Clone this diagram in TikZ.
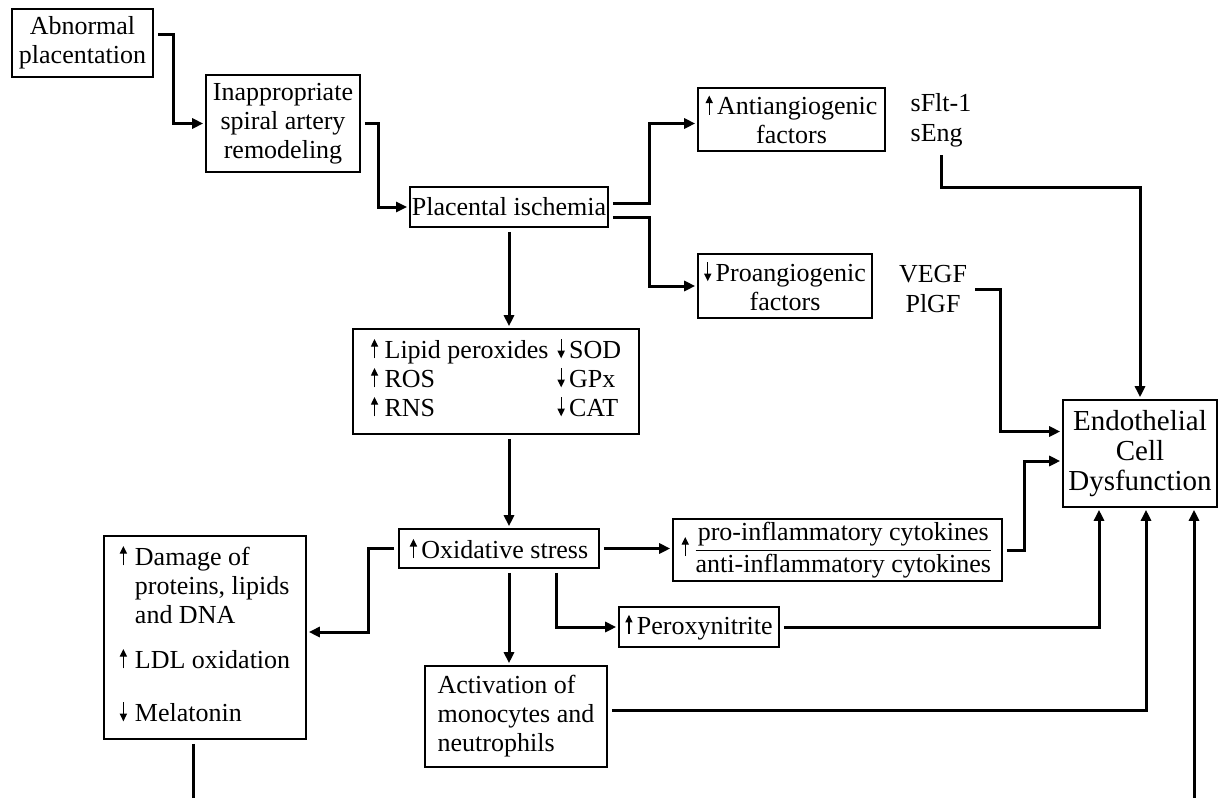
\documentclass[tikz,border=0pt]{standalone}
\usepackage{fontspec}
\setmainfont{Liberation Serif}
\usetikzlibrary{positioning, calc, arrows.meta}

% small up / down arrows set in the text
\newcommand{\upa}{\tikz[baseline=0pt]\draw[line width=0.55pt, -{Triangle[length=3.8pt,width=3.6pt]}] (0pt,0pt) -- (0pt,9.6pt);}
\newcommand{\dna}{\tikz[baseline=0pt]\draw[line width=0.55pt, -{Triangle[length=3.8pt,width=3.6pt]}] (0pt,9.6pt) -- (0pt,0pt);}

\begin{document}
\begin{tikzpicture}[x=0.5pt, y=-0.5pt,
    box/.style={draw, line width=0.8pt, inner sep=1pt, align=center, font=\fontsize{13}{14.5}\selectfont},
    tag/.style={inner sep=2pt, font=\fontsize{13}{15}\selectfont},
    link/.style={line width=1.5pt, -{Triangle[length=5.5pt,width=5pt]}, shorten <=2pt, shorten >=1pt}]
  \useasboundingbox (0,0) rectangle (1218,797);

  % upper chain
  \node[box, minimum width=70.5pt, minimum height=34pt] (abn) at (82.5,43) {Abnormal\\placentation};
  \node[box, minimum width=77pt, minimum height=48.5pt] (inapp) at (283,123.5) {Inappropriate\\spiral artery\\remodeling};
  \node[box, minimum width=98pt, minimum height=20pt] (plac) at (509,207) {Placental ischemia};
  \node[box, minimum width=93.5pt, minimum height=31.5pt] (anti) at (791.5,119.5) {\upa\,Antiangiogenic\\factors};
  \node[box, minimum width=87pt, minimum height=32pt] (pro) at (785,286) {\dna\,Proangiogenic\\factors};
  \node[tag, align=left] (antilbl) at (941,120) {sFlt-1\\sEng};
  \node[tag, align=center] (prolbl) at (933,289) {VEGF\\PlGF};
  \node[box, minimum width=77pt, minimum height=53.5pt, font=\fontsize{14.5}{15}\selectfont] (endo) at (1140,453.5) {Endothelial\\Cell\\Dysfunction};

  % middle
  \node[box, minimum width=143pt, minimum height=52.5pt] (lipid) at (496,381.5) {%
    \begin{tabular}{@{}l@{\hspace{4.5pt}}l@{}}
      \upa\ Lipid peroxides & \dna\,SOD\\
      \upa\ ROS & \dna\,GPx\\
      \upa\ RNS & \dna\,CAT
    \end{tabular}};
  \node[box, minimum width=100pt, minimum height=19.5pt] (oxid) at (499,548.5) {\upa\,Oxidative stress};
  \node[box, minimum width=164.5pt, minimum height=31pt] (cyto) at (837.5,550) {\upa\,$\displaystyle\frac{\mbox{pro-inflammatory cytokines}}{\mbox{anti-inflammatory cytokines}}$};

  % lower
  \node[box, minimum width=101pt, minimum height=101.5pt] (damage) at (205,637.5) {%
    \begin{tabular}{@{}l@{\hspace{4pt}}l@{}}
      \upa & Damage of\\
           & proteins, lipids\\
           & and DNA\\[8pt]
      \upa & LDL oxidation\\[12pt]
      \dna & Melatonin
    \end{tabular}};
  \node[box, minimum width=80pt, minimum height=20pt] (perox) at (699,627) {\upa\,Peroxynitrite};
  \node[box, align=left, minimum width=91pt, minimum height=50.5pt] (activ) at (516,716.5) {Activation of\\monocytes and\\neutrophils};

  \coordinate (antibend) at (1140,187);

  % connectors
  \draw[link] ($(abn.east)+(0,-8)$) -- ++(20,0) |- (inapp.west);
  \draw[link] (inapp.east) -- ++(18,0) |- (plac.west);
  \draw[link] ($(plac.east)+(0,-4)$) -- ++(41,0) |- ($(anti.west)+(0,4)$);
  \draw[link] ($(plac.east)+(0,10)$) -- ++(41,0) |- (pro.west);
  \draw[link] (antilbl.south) |- (antibend) -| (endo.north);
  \draw[link] (prolbl.east) -- ++(29,0) |- ($(endo.west)+(0,-22)$);
  \draw[link] (plac.south) -- (plac.south |- lipid.north);
  \draw[link] (lipid.south -| plac.south) -- (oxid.north -| plac.south);
  \draw[link] (oxid.east) -- (oxid.east -| cyto.west);
  \draw[link] (cyto.east) -- ++(22,0) |- ($(endo.west)+(0,7.5)$);
  \draw[link] (oxid.west) -- ++(-30,0) |- ($(damage.east)+(0,-5.5)$);
  \draw[link] ($(oxid.south)+(57,0)$) |- (perox.west);
  \draw[link] (oxid.south -| plac.south) -- (activ.north -| plac.south);
  \draw[link] (perox.east) -| ($(endo.south)+(-41,0)$);
  \draw[link] ($(activ.east)+(0,-6.5)$) -| ($(endo.south)+(6,0)$);
  \draw[link] ($(damage.south)+(-12,0)$) -- ++(0,59.5) -| ($(endo.south)+(54,0)$);
\end{tikzpicture}
\end{document}
